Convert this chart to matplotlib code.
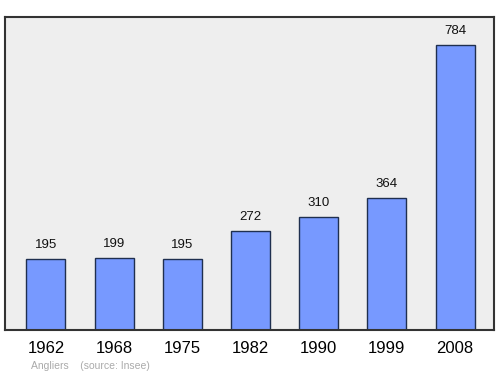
import matplotlib
matplotlib.use("Agg")
import matplotlib.pyplot as plt

plt.rcParams["font.family"] = ["Liberation Sans", "DejaVu Sans"]

years = ["1962", "1968", "1975", "1982", "1990", "1999", "2008"]
population = [195, 199, 195, 272, 310, 364, 784]

fig = plt.figure(figsize=(5, 3.74), dpi=100)
ax = fig.add_axes([0.01, 0.1176, 0.978, 0.837])
ax.set_facecolor("#eeeeee")

x = range(len(years))
ax.bar(x, population, width=0.57, color="#7799ff", edgecolor="#1f2f4f", linewidth=1)
for xi, v in zip(x, population):
    ax.text(xi, v + 22, str(v), ha="center", va="bottom", fontsize=9.5, color="#111111")

ax.set_xlim(-0.6, 6.57)
ax.set_ylim(0, 861)
ax.set_yticks([])
ax.set_xticks(list(x))
ax.set_xticklabels(years, fontsize=12)
ax.tick_params(axis="x", length=0, pad=8)
for s in ax.spines.values():
    s.set_color("#333333")
    s.set_linewidth(1.5)

fig.text(0.062, 0.014, "Angliers    (source: Insee)", fontsize=7.5, color="#aaaaaa")

fig.savefig("out.png")
